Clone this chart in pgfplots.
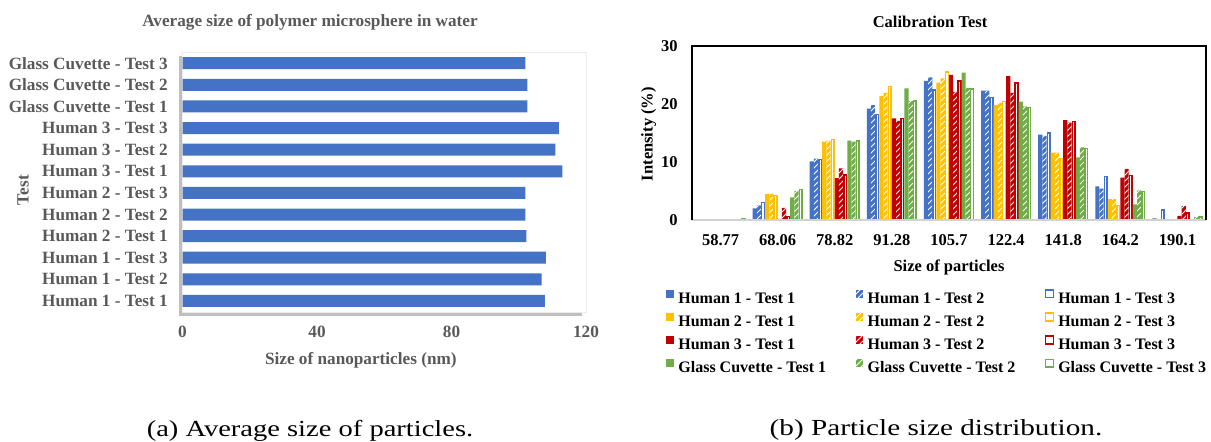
\documentclass[border=0pt]{standalone}
\usepackage{pgfplots}
\pgfplotsset{compat=1.18}
\usepackage{pgfplotstable}
\usepackage{fontspec}
\setmainfont{Liberation Serif}
\usetikzlibrary{patterns,shadows}
\definecolor{xblue}{HTML}{4472C4}
\definecolor{xyellow}{HTML}{FFC000}
\definecolor{xred}{HTML}{C00000}
\definecolor{xgreen}{HTML}{70AD47}
\definecolor{xgray}{HTML}{595959}

\pgfplotstableread{
y v
1 107.8
2 106.8
3 108.1
4 102.3
5 102.0
6 102.0
7 113.0
8 110.9
9 111.9
10 102.6
11 102.6
12 102.0
}\avg

\pgfplotstableread{
x h1a h1b h1c h2a h2b h2c h3a h3b h3c ga gb gc
0 0 0 0 0 0 0 0 0 0 0 0 0.2
1 2.0 2.5 3.0 4.5 4.5 4.2 0 2.1 0.6 3.9 5.0 5.3
2 10.1 10.6 10.4 13.5 13.7 13.9 7.2 8.9 7.8 13.7 13.5 13.6
3 19.2 19.8 18.2 21.4 21.9 23.0 17.5 17.1 17.5 22.7 20.5 20.5
4 24.0 24.6 22.4 23.7 24.4 25.5 25.0 22.1 24.0 25.4 22.8 22.6
5 22.3 22.3 21.1 19.8 20.2 20.4 24.8 21.9 23.6 20.4 19.6 19.4
6 14.7 14.5 15.0 11.6 11.6 10.6 17.2 16.8 17.0 10.8 12.5 12.3
7 5.8 5.4 7.5 3.6 3.6 2.5 7.3 8.8 7.7 2.7 5.1 4.9
8 0.3 0.1 1.7 0 0 0 0.7 2.4 1.2 0 0.5 0.5
}\dist

\pgfplotsset{
  t1/.style={fill=#1, draw=none, bar width=2.09pt},
  t2/.style={fill=#1, draw=none, bar width=2.09pt, postaction={pattern=north east lines, pattern color=white}},
  t3/.style={fill=white, draw=#1, line width=0.75pt, bar width=1.34pt},
}
\newcommand{\lbl}{\bfseries\fontsize{8.25}{10}\selectfont}
\newcommand{\lbla}{\bfseries\fontsize{8.6}{10}\selectfont}
\newcommand{\legtxt}[1]{\makebox[88.6pt][l]{#1}}

\begin{document}
\begin{tikzpicture}
\useasboundingbox (0,0) rectangle (605.5pt,221pt);
\node[font=\lbla, text=xgray] at (155pt,210pt) {Average size of polymer microsphere in water};
\node[font=\lbl] at (465pt,210pt) {Calibration Test};
\node[font=\fontsize{11.5}{13}\selectfont, inner sep=0pt] at (155pt,5.8pt) {\scalebox{1.24}[1]{(a) Average size of particles.}};
\node[font=\fontsize{11.5}{13}\selectfont, inner sep=0pt] at (468pt,5.8pt) {\scalebox{1.27}[1]{(b) Particle size distribution.}};

\begin{axis}[
  at={(91.25pt,65pt)}, anchor=south west,
  scale only axis, width=201.75pt, height=130pt,
  xbar, bar width=6pt,
  xmin=0, xmax=120, ymin=0.49, ymax=12.52,
  xtick={0,40,80,120}, ytick={1,...,12},
  yticklabels={Human 1 - Test 1,Human 1 - Test 2,Human 1 - Test 3,Human 2 - Test 1,Human 2 - Test 2,Human 2 - Test 3,Human 3 - Test 1,Human 3 - Test 2,Human 3 - Test 3,Glass Cuvette - Test 1,Glass Cuvette - Test 2,Glass Cuvette - Test 3},
  major tick length=0,
  axis line style={draw=none},
  axis background/.style={fill=white, draw=gray!15, drop shadow={shadow xshift=-1.8pt, shadow yshift=-1.8pt, opacity=0.5}},
  tick label style={font=\lbla, text=xgray},
  /pgf/number format/assume math mode=true,
  yticklabel style={anchor=east, inner sep=0pt, xshift=-7.2pt},
  xticklabel style={anchor=center, inner sep=0pt, yshift=-10pt},
  xlabel={Size of nanoparticles (nm)}, ylabel={Test},
  label style={font=\lbla, text=xgray},
  xlabel style={at={(axis description cs:0.442,0)}, anchor=center, yshift=-24pt},
  ylabel style={at={(axis description cs:-0.395,0.469)}, anchor=center},
]
\addplot[fill=xblue, draw=none] table[x=v,y=y]{\avg};
\end{axis}

\begin{axis}[
  at={(346pt,111pt)}, anchor=south west,
  scale only axis, width=257pt, height=87pt,
  ybar, ymin=0, ymax=30, xmin=-0.5, xmax=8.5,
  xtick={0,...,8}, xticklabels={58.77,68.06,78.82,91.28,105.7,122.4,141.8,164.2,190.1},
  ytick={0,10,20,30},
  major tick length=0,
  axis line style={draw=none},
  tick label style={font=\lbl},
  /pgf/number format/assume math mode=true,
  yticklabel style={anchor=east, inner sep=0pt, xshift=-7pt},
  xticklabel style={anchor=center, inner sep=0pt, yshift=-10pt},
  xlabel={Size of particles}, ylabel={Intensity (\%)},
  label style={font=\lbl},
  xlabel style={at={(axis description cs:0.5,0)}, anchor=center, yshift=-23.5pt},
  ylabel style={at={(axis description cs:-0.0844,0.494)}, anchor=center},
  legend columns=3,
  legend image code/.code={\path[#1] (0pt,0.9pt) rectangle (3.9pt,4.8pt);},
  legend style={at={(axis description cs:-0.0506,-0.395)}, anchor=north west, draw=none, fill=none, inner sep=0pt,
    font=\bfseries\fontsize{8}{9.6}\selectfont, nodes={inner sep=0pt}, row sep=3pt,
    /tikz/every odd column/.append style={column sep=2.1pt}},
  after end axis/.code={
    \draw[gray!35, line width=1.2pt] (rel axis cs:0,0) -- (rel axis cs:1,0);
    \draw[black, line width=1pt] (rel axis cs:0,0) -- (rel axis cs:0,1) -- (rel axis cs:1,1) -- (rel axis cs:1,0);
  },
]
\addplot[t1=xblue, bar shift=-11.495pt] table[x=x,y=h1a]{\dist}; \addlegendentry{\legtxt{Human 1 - Test 1}}
\addplot[t2=xblue, bar shift=-9.405pt] table[x=x,y=h1b]{\dist}; \addlegendentry{\legtxt{Human 1 - Test 2}}
\addplot[t3=xblue, bar shift=-7.315pt] table[x=x,y=h1c]{\dist}; \addlegendentry{\legtxt{Human 1 - Test 3}}
\addplot[t1=xyellow, bar shift=-5.225pt] table[x=x,y=h2a]{\dist}; \addlegendentry{\legtxt{Human 2 - Test 1}}
\addplot[t2=xyellow, bar shift=-3.135pt] table[x=x,y=h2b]{\dist}; \addlegendentry{\legtxt{Human 2 - Test 2}}
\addplot[t3=xyellow, bar shift=-1.045pt] table[x=x,y=h2c]{\dist}; \addlegendentry{\legtxt{Human 2 - Test 3}}
\addplot[t1=xred, bar shift=1.045pt] table[x=x,y=h3a]{\dist}; \addlegendentry{\legtxt{Human 3 - Test 1}}
\addplot[t2=xred, bar shift=3.135pt] table[x=x,y=h3b]{\dist}; \addlegendentry{\legtxt{Human 3 - Test 2}}
\addplot[t3=xred, bar shift=5.225pt] table[x=x,y=h3c]{\dist}; \addlegendentry{\legtxt{Human 3 - Test 3}}
\addplot[t1=xgreen, bar shift=7.315pt] table[x=x,y=ga]{\dist}; \addlegendentry{\legtxt{Glass Cuvette - Test 1}}
\addplot[t2=xgreen, bar shift=9.405pt] table[x=x,y=gb]{\dist}; \addlegendentry{\legtxt{Glass Cuvette - Test 2}}
\addplot[t3=xgreen, bar shift=11.495pt] table[x=x,y=gc]{\dist}; \addlegendentry{\legtxt{Glass Cuvette - Test 3}}
\end{axis}
\end{tikzpicture}
\end{document}
